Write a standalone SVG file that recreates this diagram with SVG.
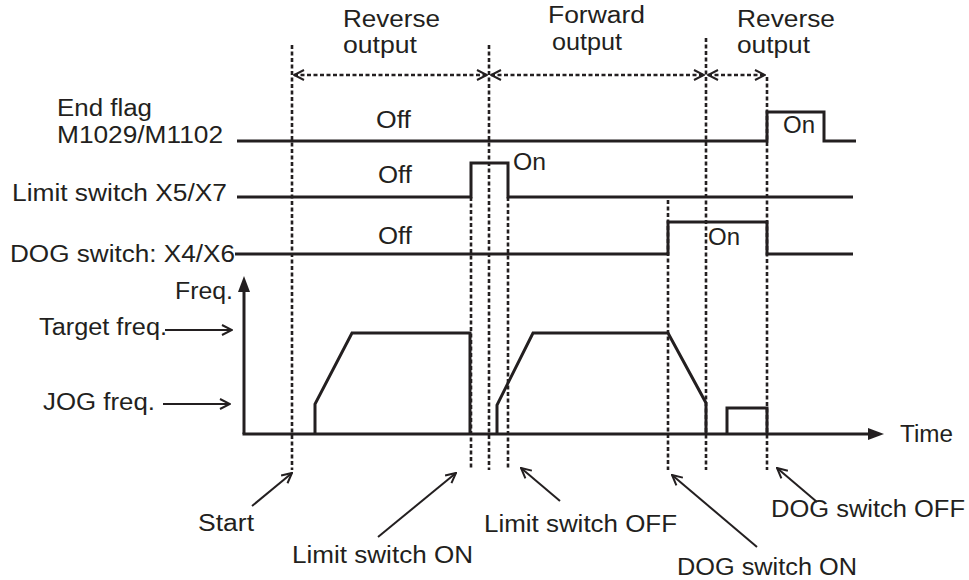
<svg xmlns="http://www.w3.org/2000/svg" width="969" height="580" viewBox="0 0 969 580">
<style>
text{font-family:"Liberation Sans",Arial,sans-serif;font-size:23px;fill:#231f20}
.sig{fill:none;stroke:#231f20;stroke-width:3}
.dash{fill:none;stroke:#231f20;stroke-width:2.6;stroke-dasharray:4 2.5}
.ann{fill:none;stroke:#231f20;stroke-width:2}
</style>
<defs>
<marker id="open" viewBox="0 0 12 12" refX="11" refY="6" markerWidth="12" markerHeight="12" markerUnits="userSpaceOnUse" orient="auto-start-reverse">
<path d="M1,1 L11,6 L1,11" fill="none" stroke="#231f20" stroke-width="2"/>
</marker>
</defs>
<rect width="969" height="580" fill="#fff"/>
<g id="phase-labels">
<text x="343" y="27" textLength="97" lengthAdjust="spacingAndGlyphs">Reverse</text>
<text x="343" y="53" textLength="74" lengthAdjust="spacingAndGlyphs">output</text>
<text x="548" y="23" textLength="97" lengthAdjust="spacingAndGlyphs">Forward</text>
<text x="552" y="50" textLength="70" lengthAdjust="spacingAndGlyphs">output</text>
<text x="737" y="27" textLength="98" lengthAdjust="spacingAndGlyphs">Reverse</text>
<text x="737" y="53" textLength="73" lengthAdjust="spacingAndGlyphs">output</text>
</g>
<g id="end-flag">
<text x="57" y="116" textLength="95" lengthAdjust="spacingAndGlyphs">End flag</text>
<text x="57" y="143" textLength="166" lengthAdjust="spacingAndGlyphs">M1029/M1102</text>
<path class="sig" d="M237,141 H767 V112 H824 V141 H856"/>
<text x="376" y="128" textLength="35" lengthAdjust="spacingAndGlyphs">Off</text>
<text x="783" y="133" textLength="32" lengthAdjust="spacingAndGlyphs">On</text>
</g>
<g id="limit-switch">
<text x="12" y="201" textLength="215" lengthAdjust="spacingAndGlyphs">Limit switch X5/X7</text>
<path class="sig" d="M237,197 H471 V163 H508 V197 H853"/>
<text x="378" y="183" textLength="34" lengthAdjust="spacingAndGlyphs">Off</text>
<text x="513" y="170" textLength="33" lengthAdjust="spacingAndGlyphs">On</text>
</g>
<g id="dog-switch">
<text x="10" y="262" textLength="225" lengthAdjust="spacingAndGlyphs">DOG switch: X4/X6</text>
<path class="sig" d="M235,254 H668 V222 H767 V254 H853"/>
<text x="378" y="244" textLength="34" lengthAdjust="spacingAndGlyphs">Off</text>
<text x="708" y="245" textLength="32" lengthAdjust="spacingAndGlyphs">On</text>
</g>
<g id="freq-axes">
<path class="sig" d="M244,434 V288"/>
<polygon points="244,276 238,292 250,292" fill="#231f20"/>
<path class="sig" d="M242.5,434 H870"/>
<polygon points="884,434 868,428 868,440" fill="#231f20"/>
<text x="175" y="299" textLength="58" lengthAdjust="spacingAndGlyphs">Freq.</text>
<text x="900" y="442" textLength="53" lengthAdjust="spacingAndGlyphs">Time</text>
</g>
<g id="freq-levels">
<text x="39" y="335" textLength="128" lengthAdjust="spacingAndGlyphs">Target freq.</text>
<text x="43" y="410" textLength="112" lengthAdjust="spacingAndGlyphs">JOG freq.</text>
</g>
<g id="freq-profile">
<path class="sig" d="M315,434 V404 L352,333 H470 V434"/>
<path class="sig" d="M497,434 V405 L533,333 H668 L706,403 V434"/>
<path class="sig" d="M727,434 V408 H767 V434"/>
</g>
<g id="annotations">
<text x="198" y="531" textLength="56" lengthAdjust="spacingAndGlyphs">Start</text>
<text x="292" y="563" textLength="181" lengthAdjust="spacingAndGlyphs">Limit switch ON</text>
<text x="484" y="532" textLength="193" lengthAdjust="spacingAndGlyphs">Limit switch OFF</text>
<text x="677" y="575" textLength="180" lengthAdjust="spacingAndGlyphs">DOG switch ON</text>
<text x="771" y="517" textLength="194" lengthAdjust="spacingAndGlyphs">DOG switch OFF</text>
</g>
<g id="connectors">
<path class="dash" d="M292,45 V470"/>
<path class="dash" d="M471,197 V470"/>
<path class="dash" d="M489,45 V470"/>
<path class="dash" d="M508,197 V470"/>
<path class="dash" d="M668,200 V470"/>
<path class="dash" d="M706,38 V470"/>
<path class="dash" d="M767,77 V470"/>
<path class="dash" d="M294,75 H487" marker-start="url(#open)" marker-end="url(#open)"/>
<path class="dash" d="M491,75 H704" marker-start="url(#open)" marker-end="url(#open)"/>
<path class="dash" d="M708,75 H765" marker-start="url(#open)" marker-end="url(#open)"/>
<path class="ann" d="M165,330 H232" marker-end="url(#open)"/>
<path class="ann" d="M163,404 H230" marker-end="url(#open)"/>
<path class="ann" d="M252,506 L292,473" marker-end="url(#open)"/>
<path class="ann" d="M378,537 L456,473" marker-end="url(#open)"/>
<path class="ann" d="M560,501 L521,468" marker-end="url(#open)"/>
<path class="ann" d="M757,547 L672,475" marker-end="url(#open)"/>
<path class="ann" d="M817,502 L777,468" marker-end="url(#open)"/>
</g>
</svg>
